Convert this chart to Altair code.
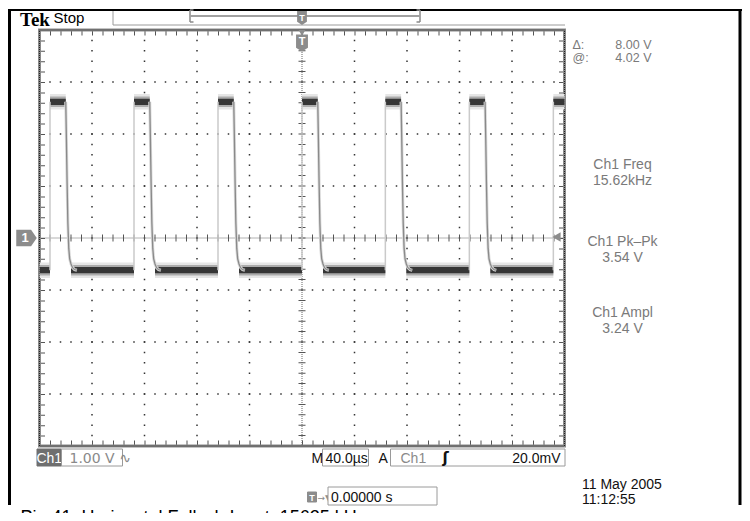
import altair as alt
import pandas as pd

time_div_us = [-200, -160, -120, -80, -40, 0, 40, 80, 120, 160, 200]
volt_div = [-4, -3, -2, -1, 0, 1, 2, 3, 4]
rise_times_us = [-192.0, -128.0, -64.0, 0.0, 63.5, 127.5, 191.5]
high_level_v = 2.62
low_level_v = -0.62
fall_offset_us = [12.0, 12.5, 13.0, 13.6, 14.3, 15.0, 16.0, 17.2, 18.8, 20.5]
fall_volts = [2.62, 1.9, 1.1, 0.3, -0.2, -0.4, -0.5, -0.57, -0.61, -0.62]
low_band_start_us = 16.0
trigger_level_v = 0.02

meas_titles = ["Ch1 Freq", "Ch1 Pk\u2013Pk", "Ch1 Ampl"]
meas_values = ["15.62kHz", "3.54 V", "3.24 V"]
cursor_labels = ["\u0394:", "@:"]
cursor_values = ["8.00 V", "4.02 V"]

# ---------------- geometry / style ----------------
W, H = 525, 416
SANS = "Liberation Sans, Arial, Helvetica, sans-serif"
SERIF = "Liberation Serif, Times New Roman, serif"
XS = alt.Scale(domain=[time_div_us[0], time_div_us[-1]], nice=False, zero=False)
YS = alt.Scale(domain=[volt_div[0], volt_div[-1]], nice=False, zero=False)
one = pd.DataFrame({"k": [0]})

layers = []


def txt(label, x, y, size=14, color="#7a7a7a", align="left", weight="normal", font=SANS):
    return alt.Chart(one).mark_text(
        text=label, fontSize=size, color=color, align=align, fontWeight=weight,
        font=font, baseline="alphabetic"
    ).encode(x=alt.value(x), y=alt.value(y))


def hline(y, x1, x2, color="#000", width=1, dash=None):
    kw = dict(color=color, strokeWidth=width)
    if dash:
        kw["strokeDash"] = dash
    return alt.Chart(one).mark_rule(**kw).encode(x=alt.value(x1), x2=alt.value(x2), y=alt.value(y))


def vline(x, y1, y2, color="#000", width=1, dash=None):
    kw = dict(color=color, strokeWidth=width)
    if dash:
        kw["strokeDash"] = dash
    return alt.Chart(one).mark_rule(**kw).encode(x=alt.value(x), y=alt.value(y1), y2=alt.value(y2))


def box(x1, x2, y1, y2, fill="white", stroke="#9a9a9a", width=1):
    return alt.Chart(one).mark_rect(fill=fill, stroke=stroke, strokeWidth=width).encode(
        x=alt.value(x1), x2=alt.value(x2), y=alt.value(y1), y2=alt.value(y2))


# ---------------- graticule ----------------
tdf = pd.DataFrame({"t": time_div_us})
vdf = pd.DataFrame({"v": volt_div})
inner_t = tdf[(tdf.t != 0) & (tdf.t != time_div_us[0]) & (tdf.t != time_div_us[-1])]
inner_v = vdf[(vdf.v != 0) & (vdf.v != volt_div[0]) & (vdf.v != volt_div[-1])]

layers.append(alt.Chart(inner_t).mark_rule(color="#333", strokeWidth=1.5, strokeDash=[1.5, 8.9],
                                          strokeDashOffset=0.75).encode(
    x=alt.X("t:Q", scale=XS, axis=None), y=alt.value(0), y2=alt.value(H)))
layers.append(alt.Chart(inner_v).mark_rule(color="#333", strokeWidth=1.5, strokeDash=[1.5, 9.0],
                                          strokeDashOffset=0.75).encode(
    y=alt.Y("v:Q", scale=YS, axis=None), x=alt.value(0), x2=alt.value(W)))

zero_t = tdf[tdf.t == 0]
zero_v = vdf[vdf.v == 0]
# centre axes: fine dotted line + minor ticks
layers.append(alt.Chart(zero_v).mark_rule(color="#666", strokeWidth=1, strokeDash=[1, 1]).encode(
    y=alt.Y("v:Q", scale=YS, axis=None), x=alt.value(0), x2=alt.value(W)))
layers.append(alt.Chart(zero_v).mark_rule(color="#555", strokeWidth=7, strokeDash=[1, 9.5],
                                         strokeDashOffset=0.5).encode(
    y=alt.Y("v:Q", scale=YS, axis=None), x=alt.value(0), x2=alt.value(W)))
layers.append(alt.Chart(zero_t).mark_rule(color="#666", strokeWidth=1, strokeDash=[1, 1]).encode(
    x=alt.X("t:Q", scale=XS, axis=None), y=alt.value(0), y2=alt.value(H)))
layers.append(alt.Chart(zero_t).mark_rule(color="#555", strokeWidth=7, strokeDash=[1, 9.4],
                                         strokeDashOffset=0.5).encode(
    x=alt.X("t:Q", scale=XS, axis=None), y=alt.value(0), y2=alt.value(H)))

# border minor ticks
layers.append(hline(3, 0, W, "#555", 5, [1, 9.5]))
layers.append(hline(H - 3, 0, W, "#555", 5, [1, 9.5]))
layers.append(vline(3, 0, H, "#555", 5, [1, 9.4]))
layers.append(vline(W - 3, 0, H, "#555", 5, [1, 9.4]))
# border
layers.append(alt.Chart(one).mark_rect(filled=False, stroke="#8a8a8a", strokeWidth=3).encode(
    x=alt.value(0), x2=alt.value(W), y=alt.value(0), y2=alt.value(H)))
layers.append(alt.Chart(one).mark_rect(filled=False, stroke="#222", strokeWidth=1, strokeDash=[1, 1]).encode(
    x=alt.value(0), x2=alt.value(W), y=alt.value(0), y2=alt.value(H)))

# ---------------- waveform ----------------
high_rows, low_rows, fall_rows, rise_rows = [], [], [], []
prev_end = time_div_us[0]
for i, t0 in enumerate(rise_times_us):
    low_rows.append({"t": prev_end, "t2": t0, "lvl": low_level_v})
    high_rows.append({"t": t0, "t2": t0 + fall_offset_us[0], "lvl": high_level_v})
    rise_rows.append({"t": t0, "v": low_level_v, "v2": high_level_v})
    for j, (off, fv) in enumerate(zip(fall_offset_us, fall_volts)):
        fall_rows.append({"p": i, "o": j, "t": t0 + off, "v": fv})
    prev_end = t0 + low_band_start_us
if prev_end < time_div_us[-1]:
    low_rows.append({"t": prev_end, "t2": time_div_us[-1], "lvl": low_level_v})

bands = pd.DataFrame(high_rows + low_rows)
falls = pd.DataFrame(fall_rows)
rises = pd.DataFrame(rise_rows)

for d, col in [(0.15, "#e6e6e6"), (0.10, "#acacac"), (0.06, "#363636")]:
    layers.append(alt.Chart(bands).mark_rect(color=col, clip=True).transform_calculate(
        lo=f"datum.lvl - {d}", hi=f"datum.lvl + {d}").encode(
        x=alt.X("t:Q", scale=XS, axis=None), x2="t2:Q",
        y=alt.Y("lo:Q", scale=YS, axis=None), y2="hi:Q"))

layers.append(alt.Chart(rises).mark_rule(color="#cacaca", strokeWidth=1.5, clip=True).encode(
    x=alt.X("t:Q", scale=XS, axis=None), y=alt.Y("v:Q", scale=YS, axis=None), y2="v2:Q"))
layers.append(alt.Chart(falls).mark_line(color="#dadada", strokeWidth=3, clip=True).encode(
    x=alt.X("t:Q", scale=XS, axis=None), y=alt.Y("v:Q", scale=YS, axis=None),
    detail="p:N", order="o:Q"))
layers.append(alt.Chart(falls).mark_line(color="#8a8a8a", strokeWidth=1.3, clip=True).encode(
    x=alt.X("t:Q", scale=XS, axis=None), y=alt.Y("v:Q", scale=YS, axis=None),
    detail="p:N", order="o:Q"))

# ---------------- markers ----------------
PENT = "M -1 -0.8 L 0.45 -0.8 L 1 0 L 0.45 0.8 L -1 0.8 Z"
SHIELD = "M -0.7 -1 L 0.7 -1 L 0.7 0.55 L 0 1 L -0.7 0.55 Z"
layers.append(alt.Chart(zero_v).mark_point(shape=PENT, filled=True, size=420, color="#8c8c8c", opacity=1).encode(
    y=alt.Y("v:Q", scale=YS, axis=None), x=alt.value(-13)))
layers.append(alt.Chart(zero_v).mark_text(text="1", color="white", fontSize=13, fontWeight="bold", font=SANS,
                                         baseline="middle").encode(
    y=alt.Y("v:Q", scale=YS, axis=None), x=alt.value(-14.5)))

# trigger position marker (t = 0) under the top border
layers.append(alt.Chart(zero_t).mark_point(shape="triangle-down", filled=True, size=45, color="#8c8c8c",
                                          opacity=1).encode(x=alt.X("t:Q", scale=XS, axis=None), y=alt.value(3)))
layers.append(alt.Chart(zero_t).mark_point(shape=SHIELD, filled=True, size=289, color="#8c8c8c", opacity=1).encode(
    x=alt.X("t:Q", scale=XS, axis=None), y=alt.value(13)))
layers.append(alt.Chart(zero_t).mark_text(text="T", color="white", fontSize=11, fontWeight="bold", font=SANS,
                                         baseline="middle").encode(
    x=alt.X("t:Q", scale=XS, axis=None), y=alt.value(12)))

# trigger level arrow at right edge
lvl = pd.DataFrame({"v": [trigger_level_v]})
layers.append(alt.Chart(lvl).mark_point(shape="triangle-left", filled=True, size=90, color="#8c8c8c", opacity=1).encode(
    y=alt.Y("v:Q", scale=YS, axis=None), x=alt.value(W - 8)))

# ---------------- header ----------------
layers.append(hline(-20, -31.5, 702.5, "#000", 2))
layers.append(vline(-30, -20, 475, "#000", 3))
layers.append(vline(700.5, -20, 475, "#000", 3))
layers.append(txt("Tek", -19.5, -4, size=19, color="#000", weight="bold", font=SERIF))
layers.append(txt("Stop", 14, -7, size=15, color="#000"))
layers.append(vline(73.5, -19, -5, "#9a9a9a", 1))
layers.append(hline(-5, 73.5, 525.5, "#9a9a9a", 1))
layers.append(vline(150.5, -20, -8, "#8a8a8a", 1.5))
layers.append(hline(-20, 150.5, 154, "#8a8a8a", 1.5))
layers.append(hline(-8, 150.5, 154, "#8a8a8a", 1.5))
layers.append(vline(380.5, -20, -8, "#8a8a8a", 1.5))
layers.append(hline(-20, 377, 380.5, "#8a8a8a", 1.5))
layers.append(hline(-8, 377, 380.5, "#8a8a8a", 1.5))
layers.append(hline(-14, 150.5, 380.5, "#a0a0a0", 2))
layers.append(alt.Chart(zero_t).mark_point(shape=SHIELD, filled=True, size=196, color="#8c8c8c", opacity=1).encode(
    x=alt.X("t:Q", scale=XS, axis=None), y=alt.value(-12)))
layers.append(alt.Chart(zero_t).mark_text(text="T", color="white", fontSize=9, fontWeight="bold", font=SANS,
                                         baseline="middle").encode(
    x=alt.X("t:Q", scale=XS, axis=None), y=alt.value(-12.5)))

# ---------------- right-hand readouts ----------------
for k, (lab, val) in enumerate(zip(cursor_labels, cursor_values)):
    layers.append(txt(lab, 533, 19 + 13 * k, size=12.5))
    layers.append(txt(val, 612, 19 + 13 * k, size=12.5, align="right"))
meas_y = [139, 216, 287]
for lab, val, yy in zip(meas_titles, meas_values, meas_y):
    layers.append(txt(lab, 583, yy, size=14, align="center"))
    layers.append(txt(val, 583, yy + 16, size=14, align="center"))

# ---------------- bottom status line ----------------
layers.append(box(-2.5, 22, 419, 436, fill="#6f6f6f", stroke="#6f6f6f"))
layers.append(txt("Ch1", 9.75, 433, size=14, color="white", align="center"))
layers.append(box(22, 83, 419, 436))
layers.append(txt("1.00 V \u223f", 30, 433, size=14, color="#8a8a8a", font="DejaVu Sans, " + SANS))
layers.append(txt("M", 272, 433, size=14, color="#111"))
layers.append(box(283, 329, 419, 436))
layers.append(txt("40.0\u00b5s", 286, 433, size=14, color="#111"))
layers.append(txt("A", 339, 433, size=14, color="#111"))
layers.append(box(351, 525.5, 419, 436))
layers.append(txt("Ch1", 361, 433, size=14, color="#8a8a8a"))
layers.append(txt("\u0283", 403, 433, size=15, color="#111", weight="bold", font="DejaVu Sans, " + SANS))
layers.append(txt("20.0mV", 521, 433, size=14, color="#111", align="right"))
layers.append(txt("11 May 2005", 542.5, 459, size=14, color="#111"))
layers.append(txt("11:12:55", 542.5, 474, size=14, color="#111"))
layers.append(box(268, 277, 462, 472, fill="#8c8c8c", stroke="#8c8c8c"))
layers.append(txt("T", 272.5, 471, size=9, color="white", weight="bold", align="center"))
layers.append(txt("\u2192\u25bc", 278, 471, size=9, color="#8c8c8c", font="DejaVu Sans, " + SANS))
layers.append(box(288.5, 397.5, 457, 475))
layers.append(txt("0.00000 s", 291.5, 472, size=14, color="#111"))
layers.append(txt("Pin 41, Horizontal Fullsch Input, 15625 kHz", -19, 493, size=18, color="#000"))

chart = alt.layer(*layers).properties(
    width=W, height=H,
    padding={"left": 31.5, "top": 22, "right": 177.5, "bottom": 67},
    autosize=alt.AutoSizeParams(type="none"),
    background="white",
).configure_view(stroke=None)

chart.save("out.html", embed_options={"renderer": "svg", "actions": False})
